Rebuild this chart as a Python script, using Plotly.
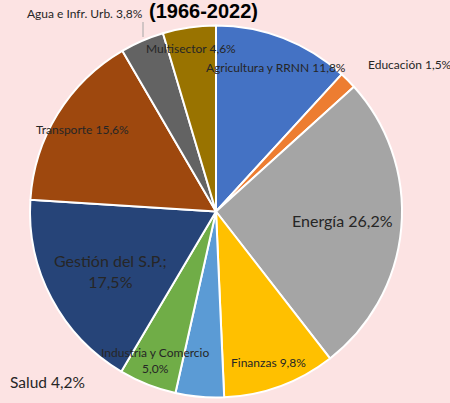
import plotly.graph_objects as go

sectors = ["Agricultura y RRNN", "Educación", "Energía", "Finanzas", "Salud",
           "Industria y Comercio", "Gestión del S.P.", "Transporte",
           "Agua e Infr. Urb.", "Multisector"]
shares = [11.8, 1.5, 26.2, 9.8, 4.2, 5.0, 17.5, 15.6, 3.8, 4.6]
colors = ["#4472C4", "#ED7D31", "#A5A5A5", "#FFC000", "#5B9BD5",
          "#70AD47", "#264478", "#9E480E", "#636363", "#997300"]
title_text = "(1966-2022)"

W, H = 450, 403
BG = "#FCE3E3"
def px(x): return x / W
def py(y): return 1 - y / H

fig = go.Figure(go.Pie(
    labels=sectors, values=shares, sort=False, direction="clockwise", rotation=0,
    marker=dict(colors=colors, line=dict(color="white", width=2)),
    textinfo="none", hoverinfo="label+percent", showlegend=False,
    domain=dict(x=[px(30), px(402)], y=[py(398.5), py(24.5)]),
))

def fmt(v):
    return f"{v:.1f}".replace(".", ",") + "%"

lab = dict(zip(sectors, shares))
FONT = "Lato, Calibri, sans-serif"
TC = "#262626"
# (text, x, y, size)
items = [
    (f"Agua e Infr. Urb. {fmt(lab['Agua e Infr. Urb.'])}", 85, 14, 12),
    (f"Multisector {fmt(lab['Multisector'])}", 191, 48, 12),
    (f"Agricultura y RRNN {fmt(lab['Agricultura y RRNN'])}", 276, 67, 12),
    (f"Educación {fmt(lab['Educación'])}", 410, 65, 12),
    (f"Energía {fmt(lab['Energía'])}", 342, 221, 16),
    (f"Transporte {fmt(lab['Transporte'])}", 82, 129, 12),
    (f"Gestión del S.P.;<br>{fmt(lab['Gestión del S.P.'])}", 110, 271, 16),
    (f"Industria y Comercio<br>{fmt(lab['Industria y Comercio'])}", 155, 360, 12),
    (f"Finanzas {fmt(lab['Finanzas'])}", 268, 362, 12),
    (f"Salud {fmt(lab['Salud'])}", 47, 382, 15.5),
]
annotations = []
for text, x, y, size in items:
    annotations.append(dict(text=text, x=px(x), y=py(y), xref="paper", yref="paper",
                            xanchor="center", yanchor="middle", showarrow=False,
                            font=dict(family=FONT, size=size, color=TC)))
annotations.append(dict(text=f"<b>{title_text}</b>", x=px(203), y=py(11), xref="paper",
                        yref="paper", xanchor="center", yanchor="middle", showarrow=False,
                        font=dict(family="Liberation Sans, Arial, sans-serif", size=20,
                                  color="#000000")))

fig.update_layout(
    width=W, height=H, margin=dict(l=0, r=0, t=0, b=0),
    paper_bgcolor=BG, plot_bgcolor=BG,
    annotations=annotations,
    shapes=[dict(type="line", xref="paper", yref="paper",
                 x0=px(143), x1=px(143), y0=py(22), y1=py(37),
                 line=dict(color="#A6A6A6", width=1))],
)
fig.write_html("out.html", config={"displayModeBar": False},
               post_script="document.body.style.margin='0';document.body.style.background='%s';" % BG)
